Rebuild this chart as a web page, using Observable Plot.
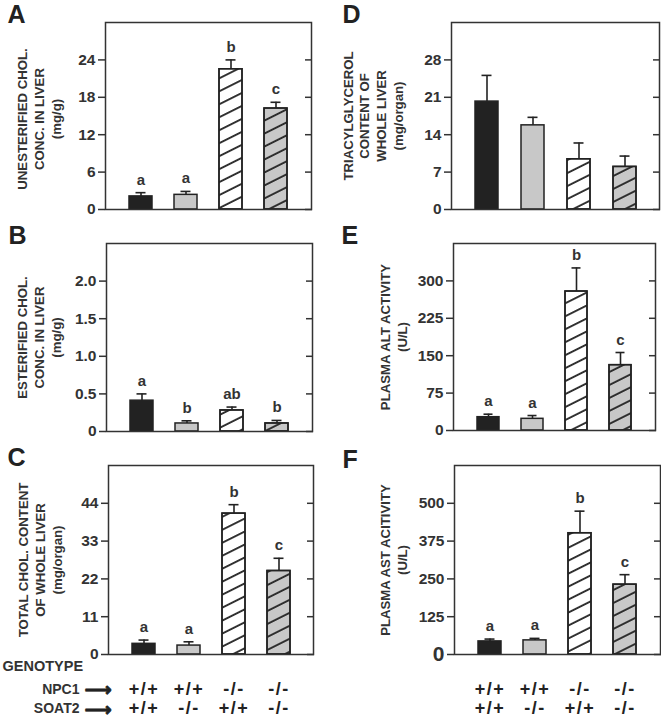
<!DOCTYPE html>
<html><head><meta charset="utf-8">
<script src="https://cdn.jsdelivr.net/npm/d3@7"></script>
<script src="https://cdn.jsdelivr.net/npm/@observablehq/plot@0.6"></script>
<style>
body{margin:0;background:#fff;}
#wrap{position:relative;width:661px;height:724px;overflow:hidden;background:#fff;}
#wrap > svg{position:absolute;}
</style></head><body>
<svg width="0" height="0" style="position:absolute">
<defs>
<pattern id="hatch" patternUnits="userSpaceOnUse" width="11.6" height="11.6" patternTransform="rotate(-26.6)">
<line x1="-2" y1="5.8" x2="14" y2="5.8" stroke="#222" stroke-width="1.8"/>
</pattern>
</defs></svg>
<div id="wrap"></div>
<script>
// genotype groups
const groups = ["WT", "SOAT2-/-", "NPC1-/-", "DKO"];
const npc1Labels = ["+/+", "+/+", "-/-", "-/-"];
const soat2Labels = ["+/+", "-/-", "+/+", "-/-"];
const barFills = ["#222222", "#c8c8c8", "#ffffff", "#c8c8c8"];
const hatched = [false, false, true, true];

// A: unesterified cholesterol concentration (mg/g)
const ufcMean = [2.1, 2.35, 22.5, 16.2];
const ufcSem = [0.6, 0.55, 1.5, 1.0];
const ufcLetters = ["a", "a", "b", "c"];
const ufcTicks = [0, 6, 12, 18, 24];

// B: esterified cholesterol concentration (mg/g)
const ecMean = [0.41, 0.107, 0.28, 0.107];
const ecSem = [0.09, 0.035, 0.045, 0.04];
const ecLetters = ["a", "b", "ab", "b"];
const ecTicks = [0, 0.5, 1.0, 1.5, 2.0];

// C: total cholesterol content of whole liver (mg/organ)
const tcMean = [3.1, 2.6, 41.0, 24.3];
const tcSem = [1.1, 1.1, 2.6, 3.7];
const tcLetters = ["a", "a", "b", "c"];
const tcTicks = [0, 11, 22, 33, 44];

// D: triacylglycerol content of whole liver (mg/organ)
const tgMean = [20.2, 15.75, 9.4, 7.97];
const tgSem = [4.9, 1.5, 3.05, 2.03];
const tgLetters = [null, null, null, null];
const tgTicks = [0, 7, 14, 21, 28];

// E: plasma ALT activity (U/L)
const altMean = [26.7, 23.4, 278.7, 131];
const altSem = [6, 6.6, 47.3, 25.4];
const altLetters = ["a", "a", "b", "c"];
const altTicks = [0, 75, 150, 225, 300];

// F: plasma AST activity (U/L)
const astMean = [43.3, 46.7, 401, 231];
const astSem = [7.7, 6.6, 73, 33];
const astLetters = ["a", "a", "b", "c"];
const astTicks = [0, 125, 250, 375, 500];

const INK = "#333333";
const FONT = "'Liberation Sans', Arial, Helvetica, sans-serif";

function rows(mean, sem, letters) {
  return groups.map((g, i) => ({g, mean: mean[i], sem: sem[i], letter: letters[i], fill: barFills[i], hatched: hatched[i], npc1: npc1Labels[i], soat2: soat2Labels[i]}));
}

function panel(cfg) {
  const data = rows(cfg.mean, cfg.sem, cfg.letters);
  const marks = [
    Plot.barY(data, {x: "g", y: "mean", fill: "fill", stroke: "#222", strokeWidth: 1.5}),
    Plot.barY(data.filter(d => d.hatched), {x: "g", y: "mean", fill: "url(#hatch)", stroke: "#222", strokeWidth: 1.5}),
    Plot.ruleX(data, {x: "g", y1: "mean", y2: d => d.mean + d.sem, stroke: "#222", strokeWidth: 1.6}),
    Plot.tickY(data, {x: "g", y: d => d.mean + d.sem, stroke: "#222", strokeWidth: 1.6, inset: 6.5}),
    Plot.text(data.filter(d => d.letter), {x: "g", y: d => d.mean + d.sem, text: "letter", dy: -8, lineAnchor: "bottom", fontSize: 15, fontWeight: "bold", fill: INK}),
    Plot.axisY({anchor: "left", ticks: cfg.ticks, tickSize: 7, tickPadding: 3, tickFormat: cfg.format, fontSize: cfg.zeroBig ? (d => d === 0 ? 21 : 15.5) : 15.5, fontWeight: "bold", fill: INK, stroke: INK, strokeWidth: 1.5, label: null}),
    Plot.axisY({anchor: "right", ticks: cfg.ticks, tickSize: 7, dx: -7, tickFormat: () => "", stroke: INK, strokeWidth: 1.5, label: null}),
    Plot.frame({stroke: INK, strokeWidth: 1.5}),
    Plot.text([cfg.label], {frameAnchor: "left", rotate: -90, dx: cfg.labelDx, dy: cfg.labelDy || 0, textAnchor: "middle", lineAnchor: "middle", lineHeight: 1.28, fontSize: 13.2, fontWeight: "bold", fill: INK}),
    Plot.text([cfg.letter], {frameAnchor: "top-left", dx: cfg.letterDx, dy: cfg.letterDy || 0, textAnchor: "start", lineAnchor: "bottom", fontSize: 25, fontWeight: "bold", fill: "#222"})
  ];
  if (cfg.genotype) {
    marks.push(
      Plot.text(data, {x: "g", text: "npc1", frameAnchor: "bottom", dy: 35, lineAnchor: "middle", fontSize: 18, fontWeight: "bold", fill: "#222"}),
      Plot.text(data, {x: "g", text: "soat2", frameAnchor: "bottom", dy: 54, lineAnchor: "middle", fontSize: 18, fontWeight: "bold", fill: "#222"})
    );
  }
  if (cfg.rowLabels) {
    marks.push(
      Plot.text(["GENOTYPE"], {frameAnchor: "bottom-left", dx: -106, dy: 12, textAnchor: "start", lineAnchor: "middle", fontSize: 14.5, fontWeight: "bold", fill: INK}),
      Plot.text(["NPC1"], {frameAnchor: "bottom-left", dx: -29, dy: 35, textAnchor: "end", lineAnchor: "middle", fontSize: 14, fontWeight: "bold", fill: INK}),
      Plot.text(["SOAT2"], {frameAnchor: "bottom-left", dx: -29, dy: 54, textAnchor: "end", lineAnchor: "middle", fontSize: 14, fontWeight: "bold", fill: INK}),
      Plot.text(["\u27F6"], {frameAnchor: "bottom-left", dx: -24, dy: 35, textAnchor: "start", lineAnchor: "middle", fontSize: 19, fontWeight: "bold", fill: "#222", stroke: "#222", strokeWidth: 0.8, fontFamily: "DejaVu Sans"}),
      Plot.text(["\u27F6"], {frameAnchor: "bottom-left", dx: -24, dy: 55, textAnchor: "start", lineAnchor: "middle", fontSize: 19, fontWeight: "bold", fill: "#222", stroke: "#222", strokeWidth: 0.8, fontFamily: "DejaVu Sans"})
    );
  }
  const svg = Plot.plot({
    width: cfg.w, height: cfg.h,
    marginLeft: cfg.ml, marginRight: cfg.mr, marginTop: cfg.mt, marginBottom: cfg.mb,
    x: {domain: groups, padding: 0.5, axis: null},
    y: {domain: cfg.domain, axis: null},
    style: {fontFamily: FONT, background: "transparent", overflow: "visible", color: INK},
    marks
  });
  svg.style.left = cfg.left + "px";
  svg.style.top = cfg.top + "px";
  document.getElementById("wrap").appendChild(svg);
  // widen the genotype symbols slightly, as in the original figure
  d3.select(svg).selectAll("text").filter(function() {
    return /^[+\-]\/[+\-]$/.test(this.textContent);
  }).style("letter-spacing", "1.5px");
  return svg;
}

const fmt1 = d => d === 0 ? "0" : d.toFixed(1);

panel({mean: ufcMean, sem: ufcSem, letters: ufcLetters, ticks: ufcTicks, domain: [0, 30],
  label: "UNESTERIFIED CHOL.\nCONC. IN LIVER\n(mg/g)", letter: "A",
  left: 0, top: 0, w: 330, h: 220, ml: 105, mr: 19, mt: 22, mb: 11, labelDx: -67, labelDy: 3, letterDx: -98});
panel({mean: ecMean, sem: ecSem, letters: ecLetters, ticks: ecTicks, domain: [0, 2.5], format: fmt1,
  label: "ESTERIFIED CHOL.\nCONC. IN LIVER\n(mg/g)", letter: "B",
  left: 0, top: 220, w: 330, h: 220, ml: 106, mr: 18, mt: 23, mb: 9, labelDx: -68, letterDx: -98});
panel({mean: tcMean, sem: tcSem, letters: tcLetters, ticks: tcTicks, domain: [0, 55],
  label: "TOTAL CHOL. CONTENT\nOF WHOLE LIVER\n(mg/organ)", letter: "C",
  left: 0, top: 440, w: 330, h: 284, ml: 108, mr: 17, mt: 25, mb: 70, labelDx: -69, letterDx: -101,
  genotype: true, rowLabels: true});
panel({mean: tgMean, sem: tgSem, letters: tgLetters, ticks: tgTicks, domain: [0, 35],
  label: "TRIACYLGLYCEROL\nCONTENT OF\nWHOLE LIVER\n(mg/organ)", letter: "D",
  left: 330, top: 0, w: 331, h: 220, ml: 121, mr: 2, mt: 22, mb: 11, labelDx: -79, letterDx: -109});
panel({mean: altMean, sem: altSem, letters: altLetters, ticks: altTicks, domain: [0, 375],
  label: "PLASMA ALT ACTIVITY\n(U/L)", letter: "E",
  left: 330, top: 220, w: 331, h: 220, ml: 123, mr: 6, mt: 23, mb: 10, labelDx: -60, letterDx: -112});
panel({mean: astMean, sem: astSem, letters: astLetters, ticks: astTicks, domain: [0, 625], zeroBig: true,
  label: "PLASMA AST ACITIVITY\n(U/L)", letter: "F",
  left: 330, top: 440, w: 331, h: 284, ml: 124, mr: 1, mt: 25, mb: 70, labelDx: -61, letterDx: -112, letterDy: 2,
  genotype: true});
</script>
</body></html>
